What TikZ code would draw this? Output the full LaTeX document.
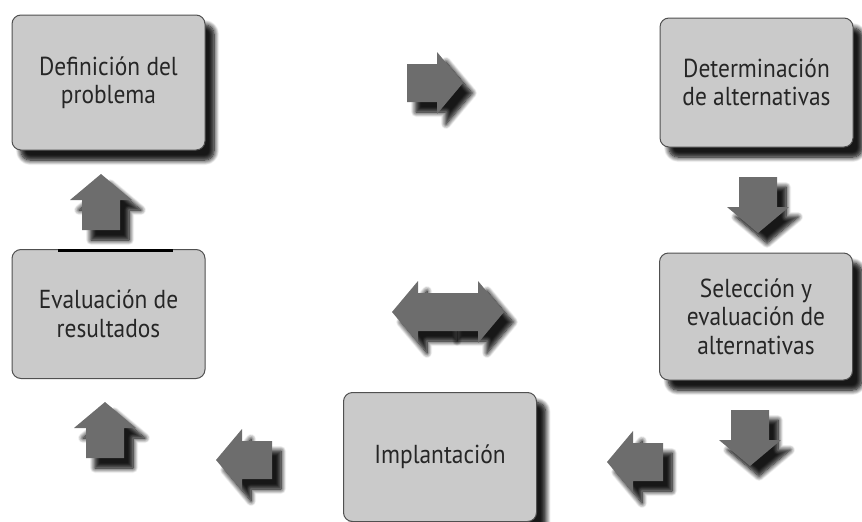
\documentclass[tikz,border=0pt]{standalone}
\usepackage{fontspec}
\setmainfont{PT Sans}[FakeStretch=0.9]
\usetikzlibrary{shadows.blur}

\definecolor{cajagris}{HTML}{CACACA}
\definecolor{bordegris}{HTML}{505050}
\definecolor{flechagris}{HTML}{6D6D6D}
\definecolor{textogris}{HTML}{262626}

\tikzset{
  caja/.style={draw=bordegris, line width=1pt, fill=cajagris, rounded corners=9pt,
    minimum width=193pt, minimum height=129pt, align=center, text=textogris,
    font=\fontsize{26}{28.5}\selectfont},
  sombra/.style={blur shadow={shadow xshift=10pt, shadow yshift=-11pt,
    shadow blur radius=8pt, shadow blur steps=10, shadow opacity=100},
    blur shadow={shadow xshift=9pt, shadow yshift=-10pt,
    shadow blur radius=5pt, shadow blur steps=8, shadow opacity=70}},
  flecha/.pic={
    \fill[flechagris, sombra] (-30,-19) -- (0,-19) -- (0,-31) -- (26,0)
      -- (0,31) -- (0,19) -- (-30,19) -- cycle;
  }
}

\begin{document}
\begin{tikzpicture}[x=1pt, y=-1pt]
            \useasboundingbox (0,0) rectangle (862,522);
            % cajas
            \node[caja, sombra, minimum height=135pt] (def) at (108.5,82.5) {Definición del\\problema};
            \node[caja, sombra] (det) at (756.5,82.5) {Determinación\\de alternativas};
            \node[caja, sombra, minimum height=127pt] (sel) at (756,316.5) {Selección y\\evaluación de\\alternativas};
            \node[caja, sombra] (impl) at (440,457) {Implantación};
            \node[caja] (eva) at (108.5,314) {Evaluación de\\resultados};
            \draw[black, line width=3pt] (58,250) -- (173,250);
            % flechas
            \pic at (437,83) {flecha};
            \pic[rotate=270] at (758,207) {flecha};
            \pic[rotate=270] at (750,440) {flecha};
            \pic[rotate=180] at (633,462) {flecha};
            \pic[rotate=180] at (242,460) {flecha};
            \pic[rotate=90] at (105,428) {flecha};
            \pic[rotate=90] at (101,200) {flecha};
            \pic[rotate=180] at (418,312) {flecha};
            \pic at (478,312) {flecha};
        \end{tikzpicture}
\end{document}
